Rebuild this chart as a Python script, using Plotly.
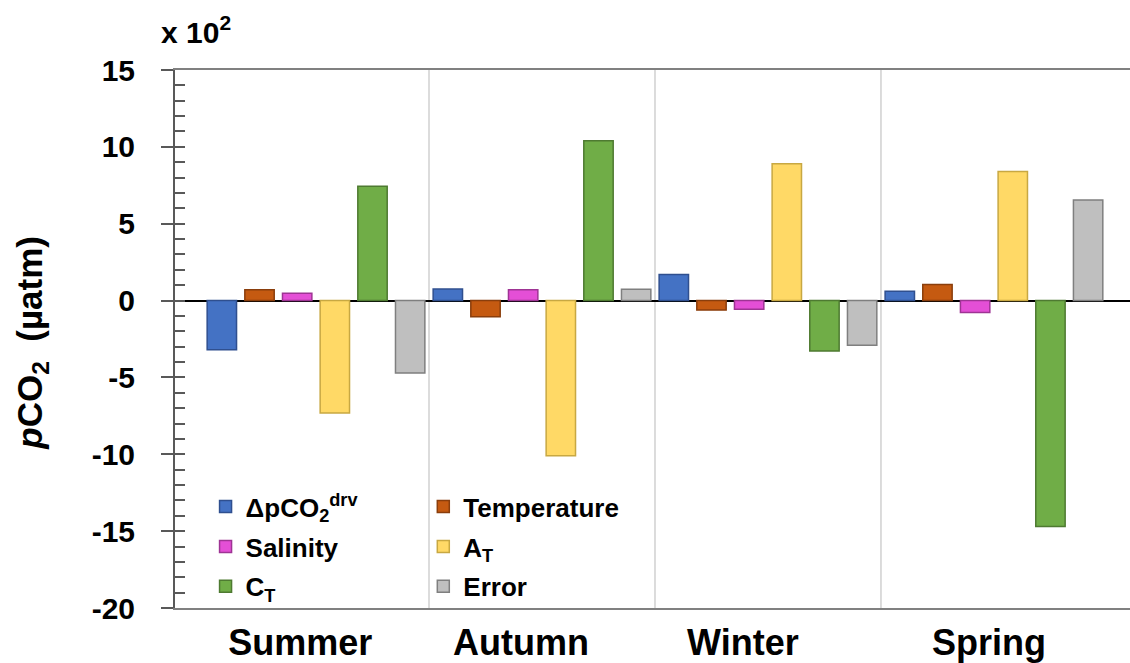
import plotly.graph_objects as go

seasons = ["Summer", "Autumn", "Winter", "Spring"]
series_names = ["ΔpCO<sub>2</sub><sup>drv</sup>", "Temperature", "Salinity",
                "A<sub>T</sub>", "C<sub>T</sub>", "Error"]
d_pco2 = [-3.2, 0.75, 1.7, 0.6]
temperature = [0.7, -1.05, -0.62, 1.05]
salinity = [0.47, 0.7, -0.57, -0.77]
a_t = [-7.32, -10.1, 8.9, 8.4]
c_t = [7.44, 10.4, -3.28, -14.7]
error = [-4.72, 0.73, -2.9, 6.54]
values = [d_pco2, temperature, salinity, a_t, c_t, error]
y_tick_values = [-20, -15, -10, -5, 0, 5, 10, 15]
y_tick_labels = ["-20", "-15", "-10", "-5", "0", "5", "10", "15"]

fill_colors = ["#4472C4", "#C55A11", "#E44FD6", "#FFD966", "#70AD47", "#BFBFBF"]
line_colors = ["#2F4F8F", "#8A3E0C", "#9E3494", "#C8A842", "#4E7A31", "#7F7F7F"]
legend_ids = ["legend", "legend2", "legend", "legend2", "legend", "legend2"]

FONT = "Liberation Sans, Arial, sans-serif"
xpos = list(range(len(seasons)))

fig = go.Figure()
for i, (name, vals) in enumerate(zip(series_names, values)):
    fig.add_trace(go.Bar(
        x=xpos, y=vals, name=name,
        marker=dict(color=fill_colors[i], line=dict(color=line_colors[i], width=1.5)),
        legend=legend_ids[i], legendgroup=f"g{i}",
    ))

# dummy trace for inner tick axis
fig.add_trace(go.Scatter(x=[None], y=[None], yaxis="y2", showlegend=False, hoverinfo="skip"))

shapes = []
for k in range(len(seasons) - 1):
    shapes.append(dict(type="line", xref="x", yref="paper", x0=k + 0.5, x1=k + 0.5,
                       y0=0, y1=1, line=dict(color="#D0D0D0", width=1.5), layer="below"))

legend_common = dict(
    orientation="v", xanchor="left", yanchor="top", bgcolor="rgba(0,0,0,0)",
    font=dict(family=FONT, size=26, color="black", weight="bold"),
    tracegroupgap=3, itemwidth=30,
)

fig.update_layout(
    width=1130, height=663,
    margin=dict(l=175, r=0, t=70, b=55),
    paper_bgcolor="white", plot_bgcolor="white",
    barmode="group", bargap=0.0, bargroupgap=0.22,
    showlegend=True,
    legend=dict(x=0.032, y=0.232, **legend_common),
    legend2=dict(x=0.26, y=0.232, **legend_common),
    xaxis=dict(
        range=[-0.624, 3.602], showgrid=False, zeroline=False,
        tickmode="array", tickvals=[-0.07, 0.907, 1.889, 2.978], ticktext=seasons,
        ticks="", ticklabelstandoff=2,
        tickfont=dict(family=FONT, size=36, color="black", weight="bold"),
        showline=True, linecolor="#808080", linewidth=2, mirror=True,
    ),
    yaxis=dict(
        range=[-20, 15], tickmode="array", tickvals=y_tick_values, ticktext=y_tick_labels,
        showgrid=False,
        zeroline=True, zerolinecolor="black", zerolinewidth=2,
        ticks="outside", ticklen=12, tickwidth=2, tickcolor="#595959",
        showline=True, linecolor="#595959", linewidth=2,
        tickfont=dict(family=FONT, size=30, color="black", weight="bold"),
        ticklabelstandoff=20,
    ),
    yaxis2=dict(
        overlaying="y", matches="y", side="left", range=[-20, 15],
        dtick=1, ticks="inside", ticklen=10, tickwidth=1.5, tickcolor="#595959",
        showticklabels=False, showgrid=False, zeroline=False, showline=False,
    ),
    shapes=shapes,
    annotations=[
        dict(text="x 10<sup>2</sup>", xref="paper", yref="paper", x=-0.017, y=1.074,
             xanchor="left", yanchor="middle", showarrow=False,
             font=dict(family=FONT, size=30, color="black", weight="bold")),
        dict(text="<i>p</i>CO<sub>2</sub>  (µatm)", xref="paper", yref="paper",
             x=-0.15, y=0.4926, xanchor="center", yanchor="middle", textangle=-90,
             showarrow=False,
             font=dict(family=FONT, size=35, color="black", weight="bold")),
    ],
)

fig.write_html("out.html")
